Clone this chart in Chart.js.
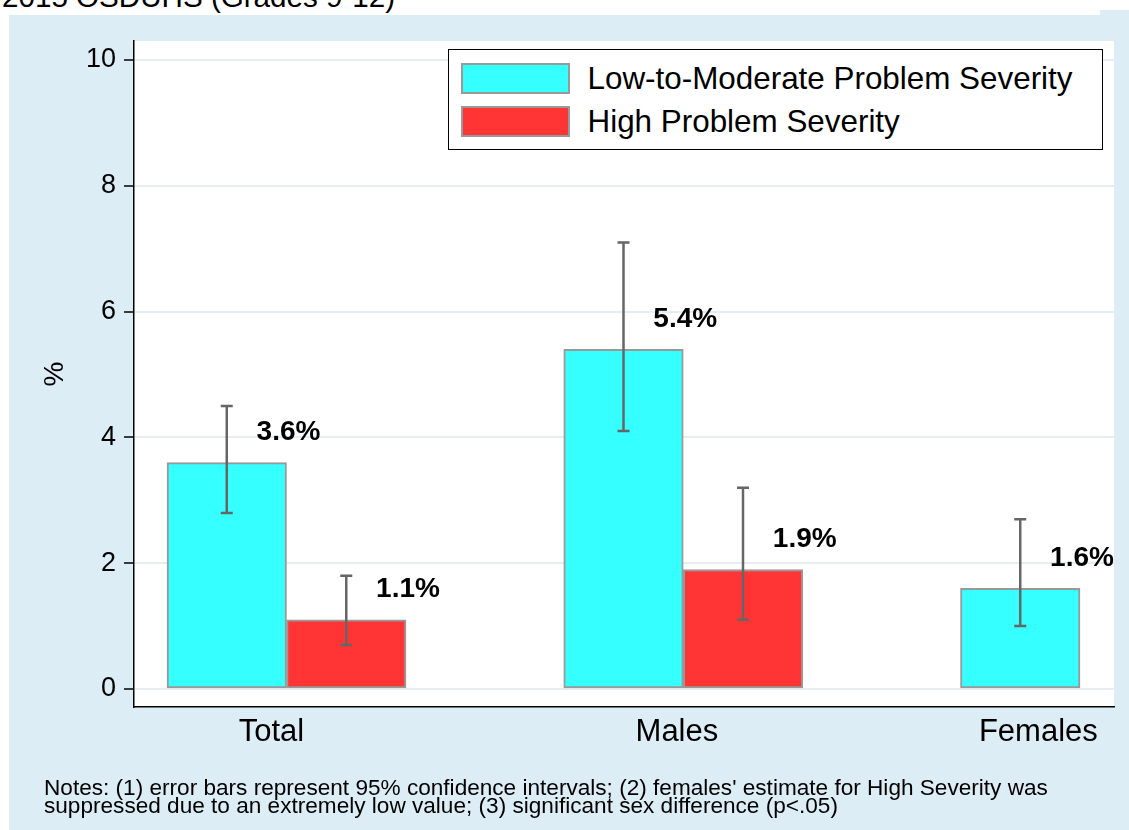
<!DOCTYPE html>
<html>
<head>
<meta charset="utf-8">
<script src="https://cdn.jsdelivr.net/npm/chart.js@4.4.1/dist/chart.umd.min.js"></script>
<style>
  body { margin: 0; width: 1129px; height: 830px; overflow: hidden; background: #fff; position: relative;
         font-family: "Liberation Sans", Arial, sans-serif; color: #000; }
  #bg { position: absolute; left: 9px; top: 15px; width: 1120px; height: 815px; background: #dcedf5; }
  #bg-corner { position: absolute; left: 1100px; top: 10px; width: 29px; height: 10px; background: #dcedf5; }
  #title { position: absolute; left: 2px; top: -18px; font-size: 29.6px; line-height: 1; white-space: nowrap; }
  #myChart { position: absolute; left: 0; top: 0; }
  #legend { position: absolute; left: 448px; top: 49px; width: 653px; height: 99px; border: 1.5px solid #000; background: #fff; }
  .legend-item { position: absolute; left: 11.5px; height: 31px; display: flex; align-items: center; white-space: nowrap; }
  .legend-swatch { width: 105px; height: 27px; border: 2px solid #999; }
  .legend-text { margin-left: 18px; font-size: 31.4px; }
  #notes { position: absolute; left: 44px; top: 779px; font-size: 22.6px; line-height: 18px; white-space: nowrap; }
</style>
</head>
<body>
<div id="bg"></div>
<div id="bg-corner"></div>
<div id="title">2015 OSDUHS (Grades 9-12)</div>
<canvas id="myChart" width="1129" height="830"></canvas>
<div id="legend"></div>
<div id="notes">Notes: (1) error bars represent 95% confidence intervals; (2) females' estimate for High Severity was<br>suppressed due to an extremely low value; (3) significant sex difference (p&lt;.05)</div>

<script>
const categories = ["Total", "Males", "Females"]
const seriesNames = ["Low-to-Moderate Problem Severity", "High Problem Severity"]
const lowModerate = [3.6, 5.4, 1.6]
const lowModerateLo = [2.8, 4.1, 1.0]
const lowModerateHi = [4.5, 7.1, 2.7]
const highSeverity = [1.1, 1.9, null]
const highSeverityLo = [0.7, 1.1, null]
const highSeverityHi = [1.8, 3.2, null]
const yTicks = [0, 2, 4, 6, 8, 10]

const ctx = document.getElementById("myChart")
const legendBox = document.getElementById("legend")

Chart.defaults.font.family = '"Liberation Sans", Arial, sans-serif'
Chart.defaults.color = "#000"

const ciLo = [lowModerateLo, highSeverityLo]
const ciHi = [lowModerateHi, highSeverityHi]

// white plot region behind the bars
const plotBg = {
    id: "plotBg",
    beforeDraw(chart) {
        const { ctx, chartArea: a } = chart
        ctx.save()
        ctx.fillStyle = "#fff"
        ctx.fillRect(a.left, a.top, a.right - a.left, a.bottom - a.top)
        ctx.restore()
    }
}

// 95% CI whiskers and the bold value labels
const errorBars = {
    id: "errorBars",
    afterDatasetsDraw(chart) {
        const { ctx, scales: { y } } = chart
        ctx.save()
        chart.data.datasets.forEach((ds, d) => {
            chart.getDatasetMeta(d).data.forEach((bar, i) => {
                const v = ds.data[i].y
                if (v == null) return
                const top = y.getPixelForValue(ciHi[d][i])
                const bot = y.getPixelForValue(ciLo[d][i])
                ctx.strokeStyle = "#666"
                ctx.lineWidth = 2.5
                ctx.beginPath()
                ctx.moveTo(bar.x, top)
                ctx.lineTo(bar.x, bot)
                ctx.moveTo(bar.x - 6, top)
                ctx.lineTo(bar.x + 6, top)
                ctx.moveTo(bar.x - 6, bot)
                ctx.lineTo(bar.x + 6, bot)
                ctx.stroke()

                ctx.fillStyle = "#000"
                ctx.font = 'bold 28px "Liberation Sans", Arial, sans-serif'
                ctx.textAlign = "center"
                ctx.textBaseline = "middle"
                ctx.fillText(v.toFixed(1) + "%", bar.x + bar.width / 2 + 2, y.getPixelForValue(v + 0.48))
            })
        })
        ctx.restore()
    }
}

function makePoints(arr) {
    return arr.map((v, i) => ({ x: i, y: v }))
}

const chart = new Chart(ctx, {
    type: "bar",
    data: {
        datasets: [{
            label: seriesNames[0],
            data: makePoints(lowModerate),
            backgroundColor: "#36ffff",
            borderColor: "#999",
            borderWidth: 2,
            borderSkipped: false,
            barThickness: 119.5
        },
        {
            label: seriesNames[1],
            data: makePoints(highSeverity),
            backgroundColor: "#ff3535",
            borderColor: "#999",
            borderWidth: 2,
            borderSkipped: false,
            barThickness: 119.5
        }]
    },
    options: {
        responsive: false,
        animation: false,
        layout: { padding: { top: 41, right: 15, bottom: 73, left: 0 } },
        plugins: {
            legend: { display: false },
            tooltip: { enabled: false }
        },
        scales: {
            x: {
                type: "linear",
                offset: false,
                min: -0.3844,
                max: 2.0857,
                grid: { display: false, drawTicks: false, offset: false },
                border: { display: true, color: "#000", width: 1.5 },
                afterBuildTicks: (scale) => {
                    scale.ticks = [-0.038, 0.984, 1.895].map(v => ({ value: v }))
                },
                afterFit: (scale) => { scale.height = 50 },
                ticks: {
                    padding: 7,
                    font: { size: 31 },
                    callback: (val, i) => categories[i]
                }
            },
            y: {
                min: -0.286,
                max: 10.302,
                afterBuildTicks: (scale) => {
                    scale.ticks = yTicks.map(v => ({ value: v }))
                },
                afterFit: (scale) => { scale.width = 134 },
                grid: { color: "#e6eef2", lineWidth: 2, tickColor: "#000", tickWidth: 1.5, tickLength: 10 },
                border: { display: true, color: "#000", width: 1.5 },
                ticks: { padding: 8, font: { size: 27 } },
                title: { display: true, text: "%", font: { size: 28 }, padding: { top: 38, bottom: 0 } }
            }
        }
    },
    plugins: [plotBg, errorBars]
})

// legend box inside the plot, built from the datasets
chart.data.datasets.forEach((ds, i) => {
    legendBox.innerHTML += `<div class="legend-item" style="top:${13 + i * 43}px">
                                <div class="legend-swatch" style="background:${ds.backgroundColor}"></div>
                                <div class="legend-text">${ds.label}</div>
                            </div>`
})
</script>
</body>
</html>
